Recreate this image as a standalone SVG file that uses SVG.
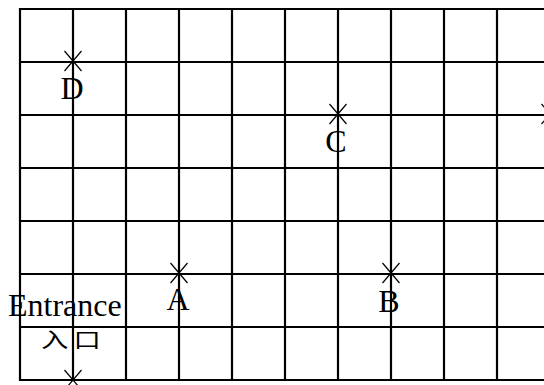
<svg xmlns="http://www.w3.org/2000/svg" width="544" height="385" viewBox="0 0 544 385">
<defs>
<style>
.grid line{stroke:#000;stroke-width:2.2;fill:none}
.lbl{font-family:"Liberation Serif","Times New Roman",serif;font-size:32px;fill:#000}
.cjk{font-family:"Noto Sans CJK SC","Noto Sans CJK JP",sans-serif;font-size:21px;fill:#000}
.cr{stroke:#000;stroke-width:1.2;fill:none}
</style>
<path id="cross" d="M-8.5,-10 L8.5,10 M-8.5,10 L8.5,-10"/>
</defs>
<rect width="544" height="385" fill="#fff"/>
<g id="connectors" class="grid">
<line x1="20" y1="9" x2="544" y2="9"/>
<line x1="20" y1="62" x2="544" y2="62"/>
<line x1="20" y1="115" x2="544" y2="115"/>
<line x1="20" y1="168" x2="544" y2="168"/>
<line x1="20" y1="221" x2="544" y2="221"/>
<line x1="20" y1="274" x2="544" y2="274"/>
<line x1="20" y1="327" x2="544" y2="327"/>
<line x1="20" y1="380" x2="544" y2="380"/>
<line x1="20" y1="8" x2="20" y2="381"/>
<line x1="73" y1="8" x2="73" y2="381"/>
<line x1="126" y1="8" x2="126" y2="381"/>
<line x1="179" y1="8" x2="179" y2="381"/>
<line x1="232" y1="8" x2="232" y2="381"/>
<line x1="285" y1="8" x2="285" y2="381"/>
<line x1="338" y1="8" x2="338" y2="381"/>
<line x1="391" y1="8" x2="391" y2="381"/>
<line x1="444" y1="8" x2="444" y2="381"/>
<line x1="497" y1="8" x2="497" y2="381"/>
</g>
<g id="D"><use href="#cross" class="cr" x="73" y="61"/><text class="lbl" x="72" y="99" text-anchor="middle">D</text></g>
<g id="C"><use href="#cross" class="cr" x="338" y="114"/><text class="lbl" x="336" y="152" text-anchor="middle">C</text></g>
<g id="R"><use href="#cross" class="cr" x="550" y="114"/></g>
<g id="A"><use href="#cross" class="cr" x="179" y="273"/><text class="lbl" x="178" y="310" text-anchor="middle">A</text></g>
<g id="B"><use href="#cross" class="cr" x="391" y="273"/><text class="lbl" x="389" y="311.5" text-anchor="middle">B</text></g>
<g id="Entrance"><use href="#cross" class="cr" x="73" y="380"/><text class="lbl" x="8" y="315.5">Entrance</text><text class="cjk" transform="translate(41,347) scale(1.3,1)" x="0" y="0" letter-spacing="4">入口</text></g>
</svg>
